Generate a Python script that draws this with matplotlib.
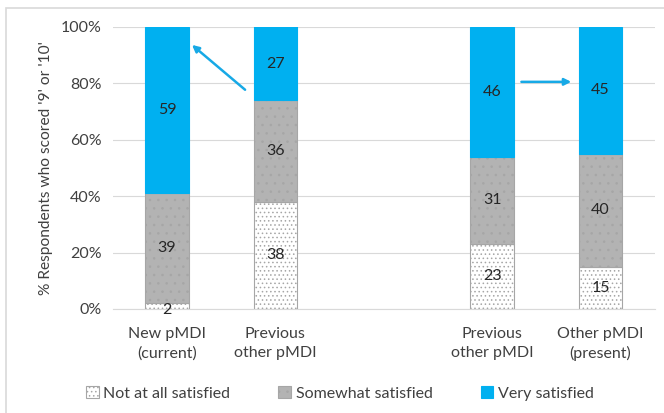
import matplotlib.pyplot as plt
from matplotlib.patches import Rectangle

# Dados
categorias = ['New pMDI\n(current)', 'Previous\nother pMDI', '', 'Previous\nother pMDI', 'Other pMDI\n(present)']
posicoes = [0, 1, 3, 4]
nada = [2, 38, 23, 15]
algo = [39, 36, 31, 40]
muito = [59, 27, 46, 45]
series = ['Not at all satisfied', 'Somewhat satisfied', 'Very satisfied']

plt.rcParams['font.family'] = ['Lato', 'DejaVu Sans']

fig = plt.figure(figsize=(6.64, 4.13), dpi=100)
ax = fig.add_axes([0.170, 0.252, 0.816, 0.683])

# moldura cinza em volta do gráfico
fig.patches.append(Rectangle((6 / 664, -0.05), 1.0, 1 - 8 / 413 + 0.05,
                             transform=fig.transFigure, fill=False,
                             edgecolor='#d9d9d9', linewidth=1.2))

largura = 0.4
plt.rcParams['hatch.linewidth'] = 0.6

base2 = [a + b for a, b in zip(nada, algo)]

plt.rcParams['hatch.color'] = '#c8c8c8'
b1 = ax.bar(posicoes, nada, largura, color='white', edgecolor='#a6a6a6',
            hatch='....', linewidth=0.8, label=series[0], zorder=2)
plt.rcParams['hatch.color'] = '#e6e6e6'
b2 = ax.bar(posicoes, algo, largura, bottom=nada, color='#b3b3b3', edgecolor='#a6a6a6',
            hatch='..', linewidth=0.8, label=series[1], zorder=2)
b3 = ax.bar(posicoes, muito, largura, bottom=base2, color='#00b0f0', edgecolor='#00b0f0',
            linewidth=0.8, label=series[2], zorder=2)

# rótulos dos valores
for i, x in enumerate(posicoes):
    ax.text(x, nada[i] / 2 - (1.5 if nada[i] < 5 else 0), str(nada[i]),
            ha='center', va='center', fontsize=11.5, color='#262626', zorder=3)
    ax.text(x, nada[i] + algo[i] / 2, str(algo[i]),
            ha='center', va='center', fontsize=11.5, color='#262626', zorder=3)
    topo = min(base2[i] + muito[i], 100)
    ax.text(x, (base2[i] + topo) / 2, str(muito[i]),
            ha='center', va='center', fontsize=11.5, color='#262626', zorder=3)

# setas
ax.annotate('', xy=(0.23, 93.6), xytext=(0.72, 77.7),
            arrowprops=dict(arrowstyle='-|>', color='#17a9e6', lw=1.8,
                            mutation_scale=10, shrinkA=0, shrinkB=0))
ax.annotate('', xy=(3.73, 80.5), xytext=(3.27, 80.5),
            arrowprops=dict(arrowstyle='-|>', color='#17a9e6', lw=1.8,
                            mutation_scale=10, shrinkA=0, shrinkB=0))

ax.set_xlim(-0.5, 4.5)
ax.set_ylim(0, 100)
ax.set_xticks(range(len(categorias)))
ax.set_xticklabels(categorias, fontsize=11.5, color='#404040', linespacing=1.45)
ax.set_yticks(range(0, 101, 20))
ax.set_yticklabels([f'{v}%' for v in range(0, 101, 20)], fontsize=11.5, color='#404040')
ax.tick_params(length=0, pad=8)
ax.tick_params(axis='x', pad=13)
ax.grid(axis='y', color='#d9d9d9', linewidth=0.8, zorder=0)
for s in ['top', 'right', 'left']:
    ax.spines[s].set_visible(False)
ax.spines['bottom'].set_color('#d9d9d9')
ax.set_ylabel("% Respondents who scored '9' or '10'", fontsize=11.2, color='#404040', labelpad=6)

fig.legend(handles=[b1, b2, b3], loc='center', bbox_to_anchor=(0.512, 0.048), ncol=3,
           frameon=False, fontsize=11.5, handlelength=0.8, handleheight=0.8,
           handletextpad=0.3, columnspacing=3.0, labelcolor='#404040')

plt.savefig('out.png', dpi=100)
